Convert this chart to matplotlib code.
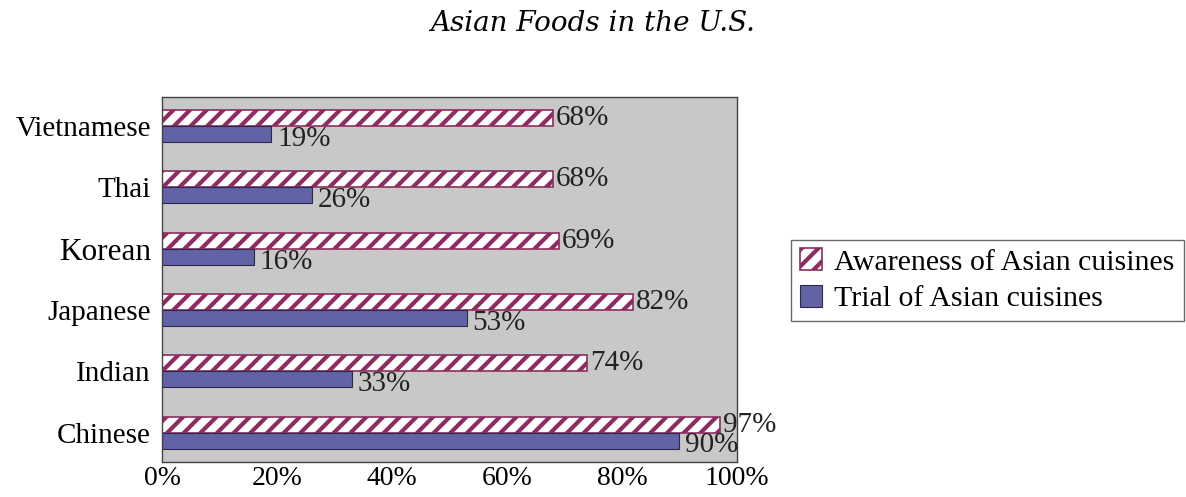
import matplotlib.pyplot as plt
import numpy as np

plt.rcParams["font.family"] = ["Liberation Serif", "DejaVu Serif"]
plt.rcParams["hatch.linewidth"] = 3.0

cuisines = ["Chinese", "Indian", "Japanese", "Korean", "Thai", "Vietnamese"]
awareness = [97, 74, 82, 69, 68, 68]
trial = [90, 33, 53, 16, 26, 19]
x_ticks = [0, 20, 40, 60, 80, 100]

AWARE_EDGE = "#8E2C60"
TRIAL_COLOR = "#6262A6"

fig = plt.figure(figsize=(11.86, 4.97), dpi=100)
ax = fig.add_axes([0.1366, 0.0704, 0.4848, 0.735])
ax.set_facecolor("#C8C8C8")

y = np.arange(len(cuisines))
h = 0.26
aw = ax.barh(y + h / 2, awareness, height=h, color="white", edgecolor=AWARE_EDGE,
             hatch="//", linewidth=1.2, label="Awareness of Asian cuisines")
tr = ax.barh(y - h / 2, trial, height=h, color=TRIAL_COLOR, edgecolor="#2a2a4a",
             linewidth=0.8, label="Trial of Asian cuisines")

for yi, v in zip(y, awareness):
    ax.text(v + 0.5, yi + h / 2, f"{v}%", va="center", ha="left", fontsize=21, color="#222222")
for yi, v in zip(y, trial):
    ax.text(v + 1.0, yi - h / 2 - 0.08, f"{v}%", va="center", ha="left", fontsize=21, color="#222222")

ax.set_xlim(0, 100)
ax.set_ylim(-0.5 + 0.02, len(cuisines) - 0.5 - 0.02)
ax.set_xticks(x_ticks)
ax.set_xticklabels([f"{t}%" for t in x_ticks], fontsize=20)
ax.set_yticks(y)
ax.set_yticklabels(cuisines, fontsize=21)
ax.get_yticklabels()[3].set_fontsize(22.5)
ax.tick_params(length=0, pad=8)
ax.tick_params(axis="x", pad=3)
for s in ax.spines.values():
    s.set_color("#444444")
    s.set_linewidth(1.0)

fig.text(0.5, 0.953, "Asian Foods in the U.S.", ha="center", va="center",
         fontsize=20, style="italic", family=["DejaVu Serif"])

leg = fig.legend(handles=[aw, tr], loc="center left", bbox_to_anchor=(0.667, 0.436),
                 fontsize=21.5, frameon=True, fancybox=False, handlelength=0.75,
                 handleheight=0.75, handletextpad=0.4, borderpad=0.3, labelspacing=0.3,
                 borderaxespad=0)
leg.get_frame().set_edgecolor("#444444")
leg.get_frame().set_linewidth(1.0)

fig.savefig("out.png", dpi=100)
